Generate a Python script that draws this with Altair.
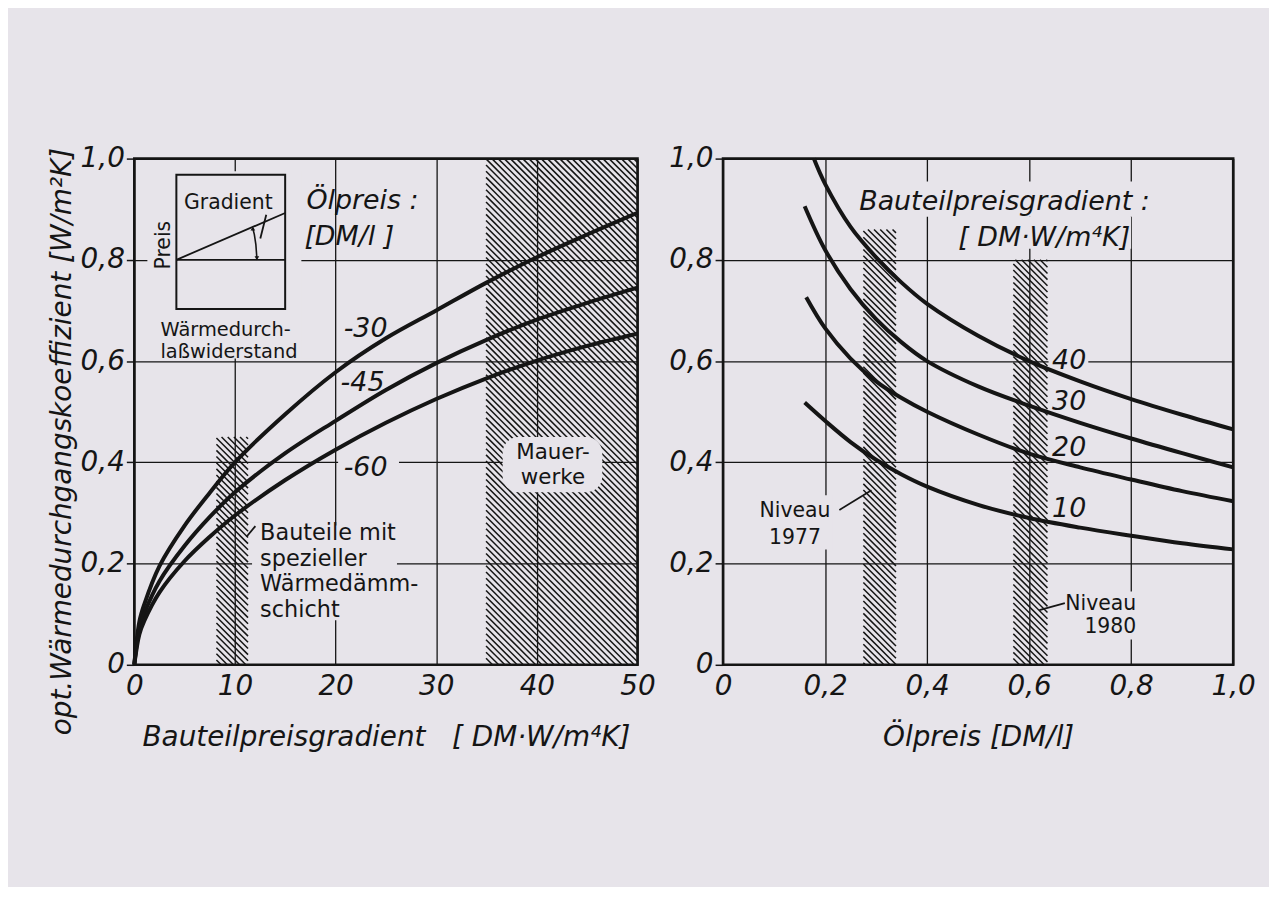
import altair as alt
import numpy as np
import pandas as pd

BG = "#e7e4ea"
INK = "#151515"
FONT = "DejaVu Sans"
NB = "\u00a0"

# ---------------- left panel: U_opt vs Bauteilpreisgradient ----------------
left_x = [0, 0.5, 1, 2.5, 5, 7.5, 10, 15, 20, 25, 30, 35, 40, 45, 50]
oil_30 = [0, 0.085, 0.12, 0.195, 0.275, 0.34, 0.40, 0.495, 0.578, 0.645, 0.70, 0.755, 0.805, 0.85, 0.893]
oil_45 = [0, 0.072, 0.102, 0.165, 0.235, 0.292, 0.341, 0.418, 0.482, 0.543, 0.596, 0.642, 0.682, 0.715, 0.745]
oil_60 = [0, 0.06, 0.087, 0.143, 0.205, 0.253, 0.295, 0.365, 0.425, 0.478, 0.525, 0.566, 0.601, 0.63, 0.654]

# hatched ranges [x0, x1, ytop]
left_hatch = [[8.16, 11.3, 0.45], [34.95, 50.0, 1.0]]

# ---------------- right panel: U_opt vs Ölpreis ----------------
g40_x = [0.178, 0.2, 0.25, 0.3, 0.35, 0.4, 0.5, 0.6, 0.7, 0.8, 0.9, 1.0]
g40_y = [1.0, 0.95, 0.865, 0.805, 0.755, 0.713, 0.65, 0.60, 0.56, 0.525, 0.494, 0.465]
g30_x = [0.16, 0.2, 0.25, 0.3, 0.35, 0.4, 0.5, 0.6, 0.7, 0.8, 0.9, 1.0]
g30_y = [0.906, 0.82, 0.742, 0.683, 0.637, 0.60, 0.55, 0.512, 0.478, 0.447, 0.418, 0.39]
g20_x = [0.163, 0.2, 0.25, 0.3, 0.35, 0.4, 0.5, 0.6, 0.7, 0.8, 0.9, 1.0]
g20_y = [0.726, 0.665, 0.605, 0.56, 0.527, 0.50, 0.455, 0.417, 0.39, 0.366, 0.343, 0.323]
g10_x = [0.16, 0.2, 0.25, 0.3, 0.35, 0.4, 0.5, 0.6, 0.7, 0.8, 0.9, 1.0]
g10_y = [0.518, 0.482, 0.44, 0.405, 0.376, 0.352, 0.316, 0.29, 0.271, 0.255, 0.24, 0.228]

right_hatch = [[0.275, 0.339, 0.86], [0.569, 0.636, 0.80]]

# ---------------- annotations ----------------
left_italic_txt = ["Ölpreis :", "[DM/l ]", "-30", "-45", "-60"]
left_italic_x = [17.1, 16.9, 20.8, 20.5, 20.8]
left_italic_y = [0.90, 0.83, 0.647, 0.541, 0.373]

# [text, x, y of first baseline, size, line height, align]
left_notes = [
    ["Gradient", 4.94, 0.90, 20.5, 20, "left"],
    ["Wärmedurch-\nlaßwiderstand", 2.6, 0.65, 19.5, 22.5, "left"],
    ["Bauteile mit\nspezieller\nWärmedämm-\nschicht", 12.5, 0.246, 22.5, 25.7, "left"],
    ["Mauer-\nwerke", 41.6, 0.406, 21.5, 24.8, "center"],
]
right_italic_txt = ["Bauteilpreisgradient :", "[ DM·W/m⁴K]", "40", "30", "20", "10"]
right_italic_x = [0.267, 0.461, 0.645, 0.645, 0.645, 0.645]
right_italic_y = [0.899, 0.828, 0.585, 0.504, 0.412, 0.292]

right_notes = [
    ["Niveau\n1977", 0.141, 0.292, 20.5, 27, "center"],
    ["Niveau\n1980", 0.81, 0.108, 20.5, 23.5, "right"],
]

# paper-coloured clearances behind lettering [x0, x1, y0, y1]
left_clear = [[1.3, 16.6, 0.605, 0.975], [16.6, 17.9, 0.605, 0.64], [20.25, 26.3, 0.365, 0.43],
              [11.7, 26.1, 0.088, 0.275], [26.1, 28.6, 0.13, 0.185]]
left_blob = [[36.6, 46.5, 0.341, 0.45]]
right_clear = [[0.26, 0.84, 0.885, 0.955], [0.45, 0.80, 0.822, 0.885], [0.638, 0.716, 0.578, 0.64],
               [0.065, 0.215, 0.228, 0.335], [0.665, 0.815, 0.05, 0.145]]

# inset sketch (left panel) and leader lines
inset_box = [[4.18, 14.99, 0.703, 0.968]]
left_segs = [[4.18, 0.80, 14.99, 0.80], [4.18, 0.80, 14.99, 0.8925],
             [13.11, 0.889, 12.52, 0.842], [11.15, 0.253, 12.03, 0.274]]
arc_x = [12.18, 12.08, 11.93, 11.78]
arc_y = [0.803, 0.83, 0.85, 0.862]
right_segs = [[0.228, 0.306, 0.291, 0.345], [0.62, 0.108, 0.67, 0.122]]

LW, RW, H = 506, 513, 509


def hatch(regions, xmax, W, step=6.2):
    rows = []
    for x0, x1, ytop in regions:
        u0, u1 = x0 / xmax * W, x1 / xmax * W
        v0, v1 = (1 - ytop) * H, H
        kmin = int(np.floor((v0 - u1) / step))
        kmax = int(np.ceil((v1 - u0) / step))
        for k in range(kmin, kmax + 1):
            c = k * step
            ua = max(u0, v0 - c)
            ub = min(u1, v1 - c)
            if ub - ua > 0.4:
                rows.append(dict(x=ua / W * xmax, y=1 - (ua + c) / H,
                                 x2=ub / W * xmax, y2=1 - (ub + c) / H))
    return pd.DataFrame(rows)


lab_expr = "datum.value == 0 ? '0' : replace(format(datum.value, '.1f'), '.', ',')"
yvals = [0, 0.2, 0.4, 0.6, 0.8, 1.0]
yscale = alt.Scale(domain=[0, 1], nice=False, zero=False)


def build(xmax, W, xaxis, yaxis, curves, hatch_regions, clears, blobs, it_df, notes, segs, extra=None):
    xs = alt.Scale(domain=[0, xmax], nice=False, zero=False)

    def X(f):
        return alt.X(f, type="quantitative", scale=xs, axis=xaxis)

    def Y(f):
        return alt.Y(f, type="quantitative", scale=yscale, axis=yaxis)

    layers = []
    hd = hatch(hatch_regions, xmax, W)
    layers.append(alt.Chart(hd).mark_rule(color=INK, strokeWidth=1.5).encode(
        x=X("x"), y=Y("y"), x2="x2", y2="y2"))
    cd = pd.DataFrame(clears, columns=["x", "x2", "y", "y2"])
    layers.append(alt.Chart(cd).mark_rect(color=BG).encode(x=X("x"), x2="x2", y=Y("y"), y2="y2"))
    if blobs:
        bd = pd.DataFrame(blobs, columns=["x", "x2", "y", "y2"])
        layers.append(alt.Chart(bd).mark_rect(color=BG, cornerRadius=16).encode(
            x=X("x"), x2="x2", y=Y("y"), y2="y2"))
    layers.append(alt.Chart(curves).mark_line(color=INK, strokeWidth=4, interpolate="catmull-rom").encode(
        x=X("x"), y=Y("y"), detail="s:N"))
    sd = pd.DataFrame(segs, columns=["x", "y", "x2", "y2"])
    layers.append(alt.Chart(sd).mark_rule(color=INK, strokeWidth=1.8).encode(
        x=X("x"), y=Y("y"), x2="x2", y2="y2"))
    if extra is not None:
        layers.extend(extra(X, Y))
    layers.append(alt.Chart(it_df).mark_text(align="left", baseline="alphabetic", font=FONT,
                                             fontStyle="italic", fontSize=27, color=INK).encode(
        x=X("x"), y=Y("y"), text="t:N"))
    for t, x, y, fs, lh, al in notes:
        nd = pd.DataFrame({"x": [x], "y": [y], "t": [t]})
        layers.append(alt.Chart(nd).mark_text(align=al, baseline="alphabetic", font=FONT,
                                              fontSize=fs, lineHeight=lh, lineBreak="\n",
                                              color=INK).encode(
            x=X("x"), y=Y("y"), text="t:N"))
    return alt.layer(*layers).properties(width=W, height=H)


common_axis = dict(grid=True, domain=False, labelOverlap=False, labelFlush=False, labelBound=False)

lx_axis = alt.Axis(values=[0, 10, 20, 30, 40, 50],
                   title="Bauteilpreisgradient" + NB * 3 + "[" + NB + "DM·W/m⁴K]",
                   ticks=False, labelPadding=8, titlePadding=23, **common_axis)
ly_axis = alt.Axis(values=yvals, labelExpr=lab_expr, title="opt.Wärmedurchgangskoeffizient [W/m²K]",
                   titleX=-64, titleY=284, titleAngle=270, titleBaseline="alphabetic", titleAlign="center",
                   tickSize=8, labelPadding=2, **common_axis)
rx_axis = alt.Axis(values=[0, 0.2, 0.4, 0.6, 0.8, 1.0], labelExpr=lab_expr, title="Ölpreis [DM/l]",
                   ticks=False, labelPadding=8, titlePadding=23, **common_axis)
ry_axis = alt.Axis(values=yvals, labelExpr=lab_expr, title=None, tickSize=8, labelPadding=2, **common_axis)

left_curves = pd.concat([
    pd.DataFrame({"x": left_x, "y": oil_30, "s": "30"}),
    pd.DataFrame({"x": left_x, "y": oil_45, "s": "45"}),
    pd.DataFrame({"x": left_x, "y": oil_60, "s": "60"}),
])
right_curves = pd.concat([
    pd.DataFrame({"x": g40_x, "y": g40_y, "s": "40"}),
    pd.DataFrame({"x": g30_x, "y": g30_y, "s": "30"}),
    pd.DataFrame({"x": g20_x, "y": g20_y, "s": "20"}),
    pd.DataFrame({"x": g10_x, "y": g10_y, "s": "10"}),
])


def left_extra(X, Y):
    box = pd.DataFrame(inset_box, columns=["x", "x2", "y", "y2"])
    arc = pd.DataFrame({"x": arc_x, "y": arc_y})
    ends = pd.DataFrame({"x": [arc_x[0], arc_x[-1]], "y": [arc_y[0], arc_y[-1]],
                         "sh": ["triangle-down", "triangle-up"]})
    preis = pd.DataFrame({"x": [3.56], "y": [0.829], "t": ["Preis"]})
    return [
        alt.Chart(box).mark_rect(fill=None, stroke=INK, strokeWidth=2).encode(
            x=X("x"), x2="x2", y=Y("y"), y2="y2"),
        alt.Chart(arc).mark_line(color=INK, strokeWidth=1.6).encode(x=X("x"), y=Y("y")),
        alt.Chart(ends).mark_point(filled=True, color=INK, size=22, opacity=1).encode(
            x=X("x"), y=Y("y"), shape=alt.Shape("sh:N", scale=None)),
        alt.Chart(preis).mark_text(angle=270, align="center", baseline="alphabetic", font=FONT,
                                   fontSize=20.5, color=INK).encode(x=X("x"), y=Y("y"), text="t:N"),
    ]


left = build(50, LW, lx_axis, ly_axis, left_curves, left_hatch, left_clear, left_blob,
             pd.DataFrame({"x": left_italic_x, "y": left_italic_y, "t": left_italic_txt}),
             left_notes, left_segs, extra=left_extra)
right = build(1.0, RW, rx_axis, ry_axis, right_curves, right_hatch, right_clear, None,
              pd.DataFrame({"x": right_italic_x, "y": right_italic_y, "t": right_italic_txt}),
              right_notes, [[a, b, c, d] for a, b, c, d in right_segs])

chart = alt.hconcat(left, right, spacing=10).properties(
    padding={"left": 39, "top": 133, "right": 12, "bottom": 132},
    background=BG,
).configure_view(
    stroke=INK, strokeWidth=2.6
).configure_axis(
    labelColor=INK, titleColor=INK, gridColor=INK, gridWidth=1.3, gridOpacity=1,
    tickColor=INK, tickWidth=1.5,
    labelFont=FONT, labelFontStyle="italic", labelFontSize=28,
    titleFont=FONT, titleFontStyle="italic", titleFontWeight="normal", titleFontSize=28,
)

chart.save("out.html", embed_options={"renderer": "svg", "actions": False})
